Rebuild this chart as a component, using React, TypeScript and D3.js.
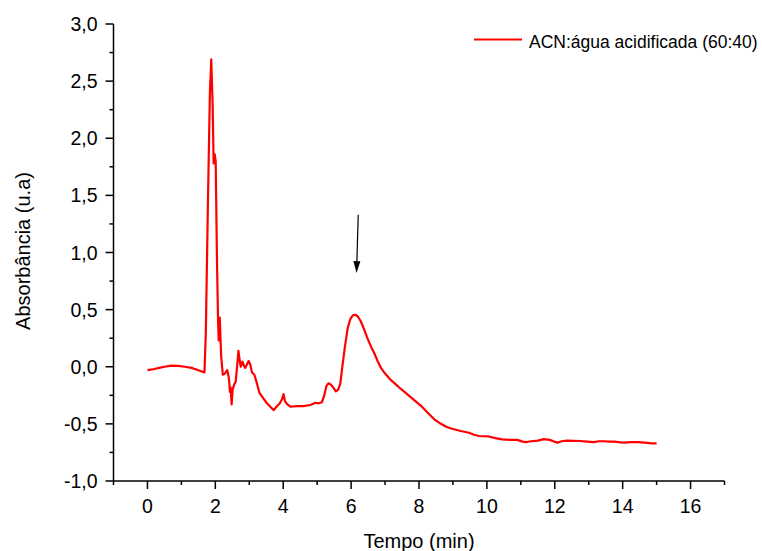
import React from "react";
import * as d3 from "d3";

const time = [
  0.0, 0.1, 0.2, 0.35, 0.5, 0.7, 0.9, 1.1, 1.3, 1.5, 1.68, 1.72, 1.78, 1.84, 1.88, 1.92, 1.95, 1.98, 2.01,
  2.05, 2.08, 2.1, 2.13, 2.17, 2.22, 2.28, 2.35, 2.4, 2.43, 2.45, 2.48, 2.51, 2.55, 2.6, 2.64, 2.68, 2.72,
  2.75, 2.8, 2.84, 2.88, 2.93, 2.98, 3.03, 3.08, 3.15, 3.22, 3.3, 3.4, 3.52, 3.62, 3.72, 3.8, 3.9, 3.97,
  4.01, 4.05, 4.12, 4.22, 4.4, 4.6, 4.8, 4.95, 5.05, 5.14, 5.2, 5.27, 5.33, 5.4, 5.47, 5.55, 5.62, 5.68,
  5.75, 5.82, 5.9, 5.98, 6.05, 6.12, 6.2, 6.28, 6.38, 6.48, 6.58, 6.68, 6.78, 6.88, 7.0, 7.15, 7.3, 7.45,
  7.65, 7.85, 8.05, 8.25, 8.45, 8.62, 8.8, 8.95, 9.2, 9.47, 9.62, 9.76, 10.05, 10.25, 10.45, 10.7, 10.9,
  11.05, 11.15, 11.3, 11.5, 11.68, 11.85, 11.98, 12.08, 12.2, 12.35, 12.55, 12.75, 12.95, 13.15, 13.3,
  13.45, 13.6, 13.75, 13.95, 14.05, 14.25, 14.45, 14.65, 14.85, 15.0,
];

const absorbance = [
  -0.03, -0.025, -0.02, -0.01, 0.0, 0.01, 0.008, 0.0, -0.01, -0.03, -0.05, 0.3, 1.4, 2.4, 2.69, 2.3, 1.78,
  1.86, 1.8, 0.9, 0.41, 0.23, 0.43, 0.1, -0.07, -0.06, -0.03, -0.1, -0.22, -0.18, -0.33, -0.2, -0.16,
  -0.13, 0.0, 0.14, 0.05, 0.0, 0.045, 0.01, -0.01, 0.02, 0.05, 0.02, -0.05, -0.07, -0.14, -0.23, -0.27,
  -0.32, -0.35, -0.38, -0.35, -0.32, -0.28, -0.24, -0.3, -0.33, -0.35, -0.345, -0.345, -0.335, -0.315,
  -0.32, -0.31, -0.26, -0.17, -0.145, -0.155, -0.18, -0.215, -0.2, -0.15, 0.02, 0.18, 0.34, 0.42, 0.45,
  0.455, 0.44, 0.4, 0.33, 0.25, 0.18, 0.12, 0.05, -0.01, -0.06, -0.11, -0.15, -0.19, -0.24, -0.29, -0.34,
  -0.4, -0.46, -0.495, -0.525, -0.54, -0.56, -0.578, -0.595, -0.606, -0.61, -0.625, -0.635, -0.64, -0.64,
  -0.655, -0.66, -0.652, -0.647, -0.633, -0.64, -0.655, -0.664, -0.652, -0.647, -0.648, -0.65, -0.655,
  -0.66, -0.652, -0.652, -0.656, -0.655, -0.662, -0.664, -0.66, -0.66, -0.664, -0.67, -0.67,
];

const xMajorTicks = [0, 2, 4, 6, 8, 10, 12, 14, 16];
const xMinorTicks = [-1, 1, 3, 5, 7, 9, 11, 13, 15, 17];
const yMajorTicks = [-1.0, -0.5, 0.0, 0.5, 1.0, 1.5, 2.0, 2.5, 3.0];
const yMinorTicks = [-0.75, -0.25, 0.25, 0.75, 1.25, 1.75, 2.25, 2.75];

const seriesName = "ACN:água acidificada (60:40)";
const xTitle = "Tempo (min)";
const yTitle = "Absorbância (u.a)";

// arrow annotation: [time, absorbance] from tail to tip
const arrowFrom = [6.21, 1.33];
const arrowTo = [6.16, 0.82];

const W = 762;
const H = 551;
const left = 113.5;
const right = 724.5;
const top = 24;
const bottom = 481;

export default function App() {
  const x = d3.scaleLinear().domain([-1, 17]).range([left, right]);
  const y = d3.scaleLinear().domain([-1, 3]).range([bottom, top]);
  const pts: [number, number][] = time.map((t, i) => [t, absorbance[i]]);
  const line = d3
    .line<[number, number]>()
    .x((d) => x(d[0]))
    .y((d) => y(d[1]))
    .curve(d3.curveLinear);

  const font = "'Liberation Sans', Arial, sans-serif";
  const ax0 = x(arrowFrom[0]);
  const ay0 = y(arrowFrom[1]);
  const ax1 = x(arrowTo[0]);
  const ay1 = y(arrowTo[1]);
  const ang = Math.atan2(ay1 - ay0, ax1 - ax0);
  const hl = 12;
  const hw = 3.5;
  const bx = ax1 - hl * Math.cos(ang);
  const by = ay1 - hl * Math.sin(ang);
  const px = -Math.sin(ang) * hw;
  const py = Math.cos(ang) * hw;

  return (
    <svg
      width={W}
      height={H}
      style={{ position: "absolute", left: 0, top: 0, background: "#fff" }}
      fontFamily={font}
    >
      <rect width={W} height={H} fill="#fff" />
      {/* axes */}
      <line x1={left} x2={left} y1={top} y2={bottom} stroke="#000" strokeWidth={1.5} />
      <line x1={left} x2={right} y1={bottom} y2={bottom} stroke="#000" strokeWidth={1.5} />
      {yMajorTicks.map((v) => (
        <g key={"ym" + v}>
          <line x1={left - 8} x2={left} y1={y(v)} y2={y(v)} stroke="#000" strokeWidth={1.5} />
          <text x={left - 16} y={y(v)} dy="0.36em" textAnchor="end" fontSize={19.5} fill="#000">
            {d3.format(".1f")(v).replace(".", ",").replace("−", "-")}
          </text>
        </g>
      ))}
      {yMinorTicks.map((v) => (
        <line key={"yn" + v} x1={left - 4} x2={left} y1={y(v)} y2={y(v)} stroke="#000" strokeWidth={1.5} />
      ))}
      {xMajorTicks.map((v) => (
        <g key={"xm" + v}>
          <line x1={x(v)} x2={x(v)} y1={bottom} y2={bottom + 8} stroke="#000" strokeWidth={1.5} />
          <text x={x(v)} y={bottom + 32} textAnchor="middle" fontSize={19.5} fill="#000">
            {String(v)}
          </text>
        </g>
      ))}
      {xMinorTicks.map((v) => (
        <line key={"xn" + v} x1={x(v)} x2={x(v)} y1={bottom} y2={bottom + 4} stroke="#000" strokeWidth={1.5} />
      ))}
      <text x={(left + right) / 2} y={548} textAnchor="middle" fontSize={20} fill="#000">
        {xTitle}
      </text>
      <text
        transform={`translate(30, 251) rotate(-90)`}
        textAnchor="middle"
        fontSize={20}
        fill="#000"
      >
        {yTitle}
      </text>
      {/* series */}
      <path d={line(pts) || ""} fill="none" stroke="#ff0000" strokeWidth={2.2} strokeLinejoin="round" />
      {/* arrow */}
      <line x1={ax0} y1={ay0} x2={bx} y2={by} stroke="#000" strokeWidth={1.2} />
      <polygon
        points={`${ax1},${ay1} ${bx + px},${by + py} ${bx - px},${by - py}`}
        fill="#000"
      />
      {/* legend */}
      <line x1={474} x2={522} y1={39.5} y2={39.5} stroke="#ff0000" strokeWidth={2.2} />
      <text x={529} y={47.5} fontSize={17.5} fill="#000">
        {seriesName}
      </text>
    </svg>
  );
}
